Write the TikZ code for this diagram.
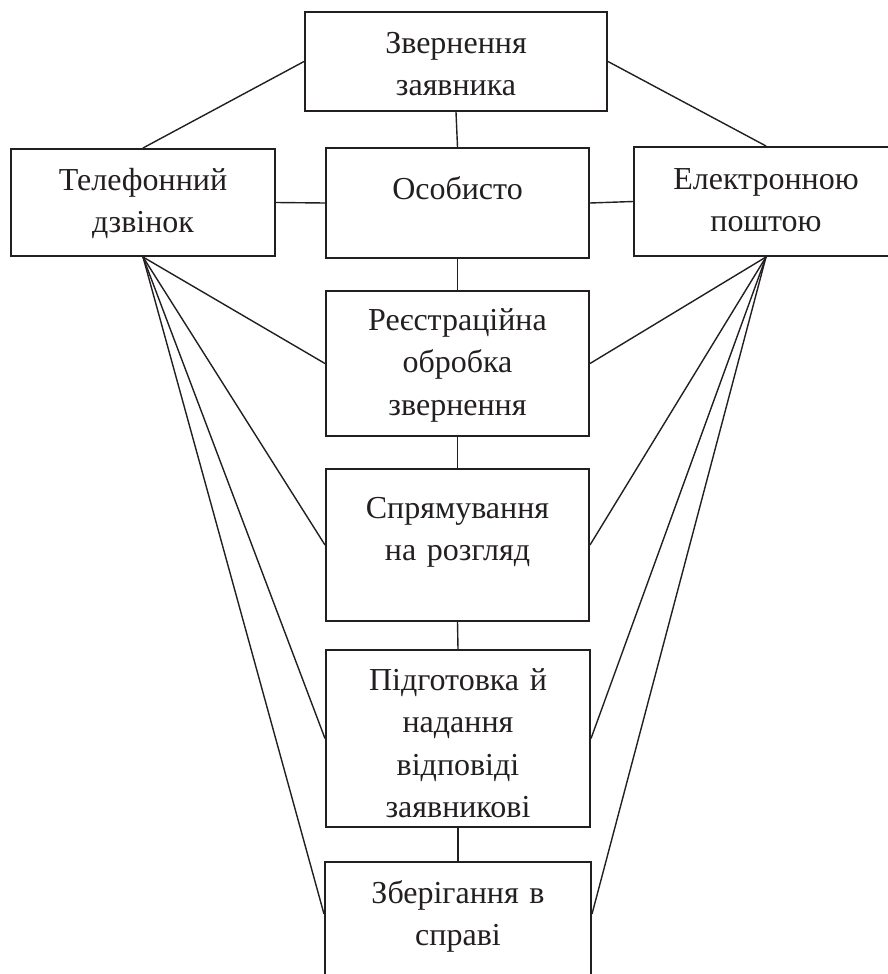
\documentclass[tikz,border=0pt]{standalone}
\usepackage{fontspec}
\setmainfont{Liberation Serif}
\usetikzlibrary{calc}
\definecolor{ink}{HTML}{231F20}
\tikzset{
  box/.style={draw=ink, line width=2pt, rectangle, inner sep=0pt},
  link/.style={draw=ink, line width=1.4pt},
  lbl/.style={text=ink, inner sep=0pt, anchor=base, align=center, text width=262pt,
    font=\fontsize{32}{42.5}\selectfont}
}
\begin{document}
\begin{tikzpicture}[x=1pt,y=-1pt]
\useasboundingbox (0,0) rectangle (887,974);
% boxes
\node[box, minimum width=302pt, minimum height=99pt] (zv) at (456,61.5) {};
\node[box, minimum width=264pt, minimum height=107pt] (tel) at (143,202.5) {};
\node[box, minimum width=263pt, minimum height=110pt] (os) at (457.5,203) {};
\node[box, minimum width=264pt, minimum height=109pt] (el) at (766,201.5) {};
\node[box, minimum width=263pt, minimum height=145pt] (reg) at (457.5,363.5) {};
\node[box, minimum width=263pt, minimum height=152pt] (spr) at (457.5,545) {};
\node[box, minimum width=264pt, minimum height=177pt] (pid) at (458,738.5) {};
\node[box, minimum width=266pt, minimum height=138pt] (zb) at (458,931) {};
% texts
\node[lbl] (tzv) at (456,53) {Звернення\\заявника};
\node[lbl] (ttel) at (143,190) {Телефонний\\дзвінок};
\node[lbl] (tos) at (457.5,199) {Особисто};
\node[lbl] (tel2) at (766,189) {Електронною\\поштою};
\node[lbl] (treg) at (457.5,330) {Реєстраційна\\обробка\\звернення};
\node[lbl] (tspr) at (457.5,518) {Спрямування\\на розгляд};
\begin{scope}
\clip (pid.north west) rectangle ($(pid.south east)+(0,-11)$);
\node[lbl] (tpid) at (458,690) {Підготовка й\\надання\\відповіді\\заявникові};
\end{scope}
\node[lbl] (tzb) at (458,903) {Зберігання в\\справі};
% connectors
\draw[link] (zv.west) -- (tel.north);
\draw[link] (zv.east) -- (el.north);
\draw[link] (zv.south) -- (os.north);
\draw[link] (tel.east) -- (os.west);
\draw[link] (os.east) -- (el.west);
\draw[link] (os.south) -- (reg.north);
\draw[link] (reg.south) -- (spr.north);
\draw[link] (spr.south) -- (pid.north);
\draw[link] (pid.south) -- (zb.north);
\draw[link] (tel.south) -- (reg.west);
\draw[link] (tel.south) -- (spr.west);
\draw[link] (tel.south) -- (pid.west);
\draw[link] (tel.south) -- ($(zb.north west)+(0,53)$);
\draw[link] (el.south) -- (reg.east);
\draw[link] (el.south) -- (spr.east);
\draw[link] (el.south) -- (pid.east);
\draw[link] (el.south) -- ($(zb.north east)+(0,53)$);
\end{tikzpicture}
\end{document}
